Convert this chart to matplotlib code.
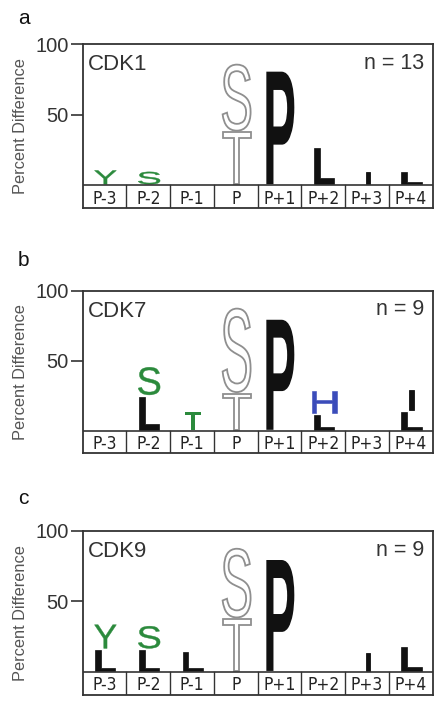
import matplotlib
matplotlib.use("Agg")
import matplotlib.pyplot as plt
from matplotlib.textpath import TextPath
from matplotlib.patches import PathPatch
from matplotlib.font_manager import FontProperties, findfont
from matplotlib.transforms import Affine2D

# ---------------- data ----------------
positions = ["P-3", "P-2", "P-1", "P", "P+1", "P+2", "P+3", "P+4"]
panel_letters = ["a", "b", "c"]
kinases = ["CDK1", "CDK7", "CDK9"]
n_values = ["n = 13", "n = 9", "n = 9"]
y_ticks = [50, 100]

# stacks: per panel, per position: list of (residue, height) from bottom up
cdk1_stacks = [
    [("Y", 11)], [("S", 10)], [], [("T", 38), ("S", 48)],
    [("P", 81)], [("L", 27)], [("I", 10)], [("L", 10)],
]
cdk7_stacks = [
    [], [("L", 25), ("S", 21)], [("T", 14)], [("T", 27), ("S", 61)],
    [("P", 80)], [("L", 12), ("H", 17)], [], [("L", 14), ("I", 16)],
]
cdk9_stacks = [
    [("L", 16), ("Y", 18)], [("L", 16), ("S", 17)], [("L", 15)], [("T", 38), ("S", 50)],
    [("P", 80)], [], [("I", 14)], [("L", 18)],
]
all_stacks = [cdk1_stacks, cdk7_stacks, cdk9_stacks]

# ---------------- styles ----------------
GREEN = "#2b8a3c"
BLUE = "#3b4cba"
BLACK = "#111111"
GRAY = "#8f8f8f"
FRAME = "#333333"

def style_for(res, pos_index):
    """returns (color, hollow, bold, width, stroke)"""
    if pos_index == 3 and res in ("S", "T"):
        return GRAY, True, False, 0.64, 1.3
    if res == "P":
        return BLACK, False, True, 0.64, 0
    if res == "L":
        return BLACK, False, True, 0.46, 0.5
    if res == "I":
        return BLACK, False, False, 0.1, 0.6
    if res == "H":
        return BLUE, False, False, 0.57, 0.4
    if res in ("S", "Y"):
        return GREEN, False, False, 0.5, 0.3
    if res == "T":
        return GREEN, False, True, 0.38, 0
    return BLACK, False, False, 0.5, 0

fp_reg = FontProperties(family="Liberation Sans")
fp_bold = FontProperties(family="Liberation Sans", weight="bold")

# choose a narrow font for the position labels
narrow_prop = FontProperties(family="Liberation Sans", size=11)
try:
    findfont(FontProperties(family="Liberation Sans Narrow"), fallback_to_default=False)
    narrow_prop = FontProperties(family="Liberation Sans Narrow", size=13)
except Exception:
    try:
        pth = findfont(FontProperties(family="DejaVu Sans", stretch="condensed"),
                       fallback_to_default=False)
        if "ondensed" in pth:
            narrow_prop = FontProperties(family="DejaVu Sans", stretch="condensed", size=12.5)
    except Exception:
        pass


def draw_letter(ax, ch, xc, w, y0, h, color, hollow, bold, stroke):
    tp = TextPath((0, 0), ch, size=1, prop=fp_bold if bold else fp_reg)
    bb = tp.get_extents()
    tr = (Affine2D().translate(-bb.x0, -bb.y0)
          .scale(w / bb.width, h / bb.height)
          .translate(xc - w / 2, y0) + ax.transData)
    if hollow:
        patch = PathPatch(tp, facecolor="white", edgecolor=color, lw=stroke, transform=tr)
    elif stroke > 0:
        patch = PathPatch(tp, facecolor=color, edgecolor=color, lw=stroke, transform=tr)
    else:
        patch = PathPatch(tp, facecolor=color, edgecolor="none", transform=tr)
    ax.add_patch(patch)


fig = plt.figure(figsize=(4.43, 7.08), dpi=100)

# axes boxes in pixels: (top, bottom) ; row height in data units
boxes = [(44.0, 208.0, 16.2), (291.0, 453.0, 16.0), (531.0, 695.0, 16.5)]
label_y = [18, 260, 498]
left_px, right_px = 82.7, 432.5
W, H = 443.0, 708.0

for k in range(3):
    top, bot, row = boxes[k]
    ax = fig.add_axes([left_px / W, 1 - bot / H, (right_px - left_px) / W, (bot - top) / H])
    ax.set_xlim(0, len(positions))
    ax.set_ylim(-row, 100)
    for s in ax.spines.values():
        s.set_color(FRAME)
        s.set_linewidth(1.3)
    ax.set_xticks([])
    ax.set_yticks(y_ticks)
    ax.set_yticklabels([str(t) for t in y_ticks], fontsize=14.5, color="#333333",
                       family="Liberation Sans")
    ax.tick_params(axis="y", length=9, width=1.2, color=FRAME, pad=1)
    ax.set_ylabel("Percent Difference", fontsize=11.8, color="#555555",
                  family="Liberation Sans")
    ax.yaxis.set_label_coords(-0.155, 0.5)

    # position row
    ax.axhline(0, color=FRAME, lw=1.2)
    for i in range(1, len(positions)):
        ax.plot([i, i], [-row, 0], color=FRAME, lw=1.0)
    for i, p in enumerate(positions):
        ax.text(i + 0.5, -row / 2, p, ha="center", va="center_baseline",
                fontproperties=narrow_prop, color="#222222")

    # logo letters
    for i, stack in enumerate(all_stacks[k]):
        y = 0.6
        for res, h in stack:
            color, hollow, bold, w, stroke = style_for(res, i)
            draw_letter(ax, res, i + 0.52, w, y, h - 1.2, color, hollow, bold, stroke)
            y += h

    ax.text(0.015, 0.84, kinases[k], transform=ax.transAxes, fontsize=16,
            color="#333333", family="Liberation Sans", va="baseline", ha="left")
    ax.text(0.975, 0.85, n_values[k], transform=ax.transAxes, fontsize=15.5,
            color="#333333", family="Liberation Sans", va="baseline", ha="right")

    fig.text(18 / W, 1 - label_y[k] / H, panel_letters[k], fontsize=15,
             family="Liberation Sans", va="center", ha="left", color="#111111")

fig.savefig("out.png", dpi=100)
